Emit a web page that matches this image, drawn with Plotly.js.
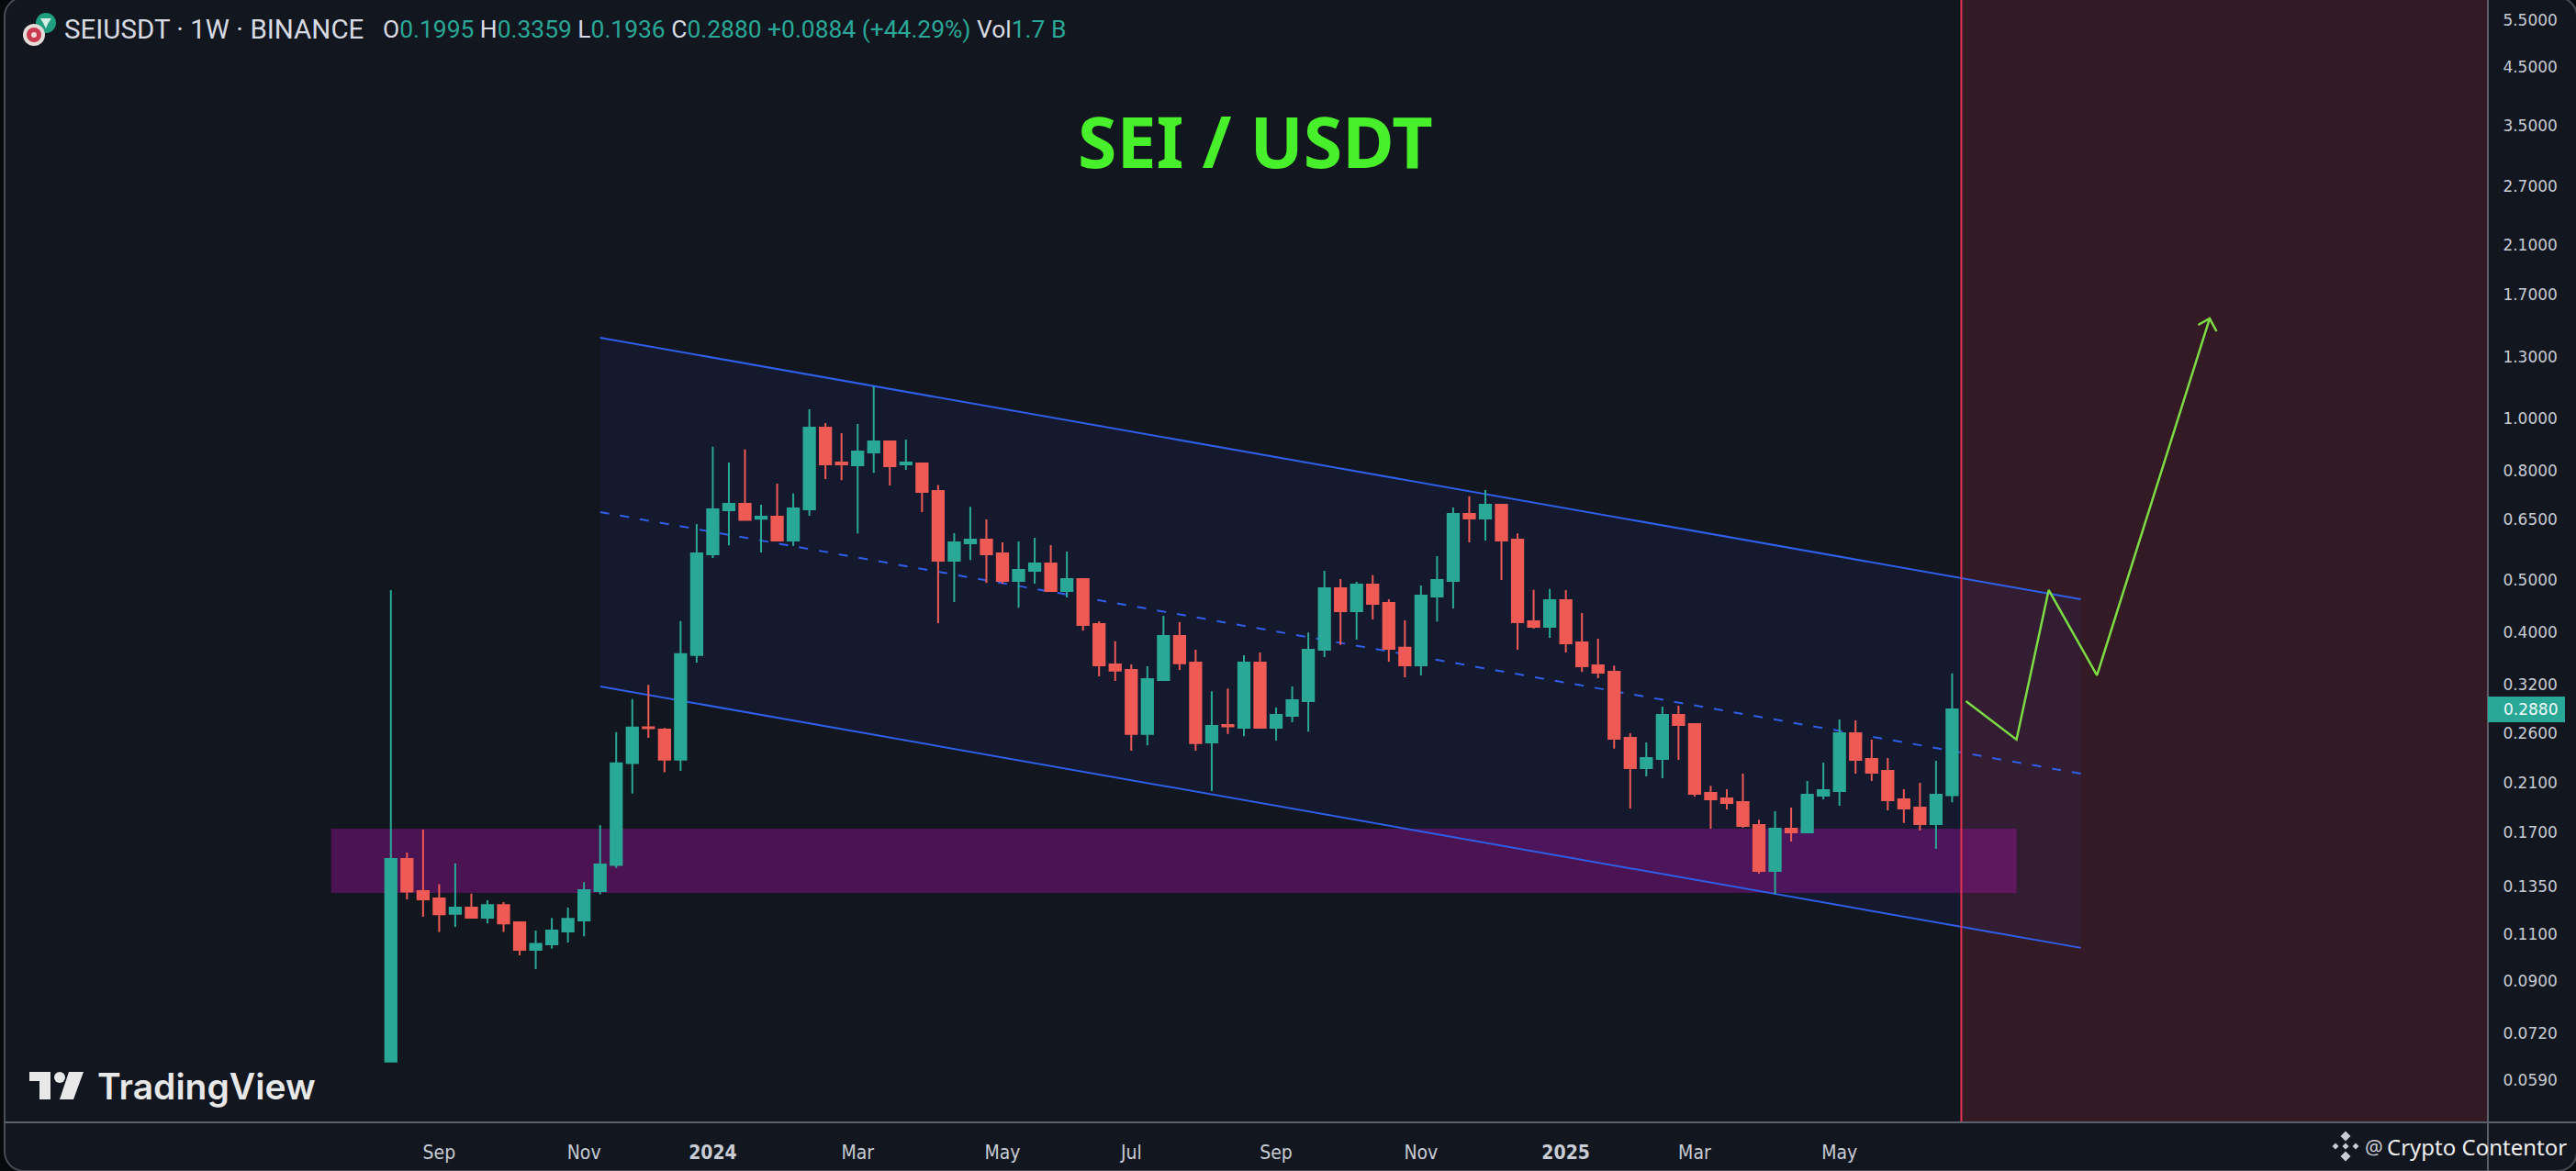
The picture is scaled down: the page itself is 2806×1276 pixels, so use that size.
<!DOCTYPE html>
<html>
<head>
<meta charset="utf-8">
<title>SEI / USDT</title>
<script src="https://cdn.plot.ly/plotly-3.0.1.min.js"></script>
<style>
html,body{margin:0;padding:0;background:#08090c;width:2806px;height:1276px;overflow:hidden}
#frame{position:absolute;left:4px;top:-4px;width:2800px;height:1277px;background:#12161f;border:2px solid #4a4d55;border-radius:22px;box-sizing:content-box}
#chart{position:absolute;left:0;top:0;width:2806px;height:1276px}
</style>
</head>
<body>
<div id="frame"></div>
<div id="chart"></div>
<script>
const weeks = ["2023-08-14","2023-08-21","2023-08-28","2023-09-04","2023-09-11","2023-09-18","2023-09-25","2023-10-02","2023-10-09","2023-10-16","2023-10-23","2023-10-30","2023-11-06","2023-11-13","2023-11-20","2023-11-27","2023-12-04","2023-12-11","2023-12-18","2023-12-25",
"2024-01-01","2024-01-08","2024-01-15","2024-01-22","2024-01-29","2024-02-05","2024-02-12","2024-02-19","2024-02-26","2024-03-04","2024-03-11","2024-03-18","2024-03-25","2024-04-01","2024-04-08","2024-04-15","2024-04-22","2024-04-29","2024-05-06","2024-05-13","2024-05-20","2024-05-27","2024-06-03","2024-06-10","2024-06-17","2024-06-24","2024-07-01","2024-07-08","2024-07-15","2024-07-22","2024-07-29","2024-08-05","2024-08-12","2024-08-19","2024-08-26","2024-09-02","2024-09-09","2024-09-16","2024-09-23","2024-09-30","2024-10-07","2024-10-14","2024-10-21","2024-10-28","2024-11-04","2024-11-11","2024-11-18","2024-11-25","2024-12-02","2024-12-09","2024-12-16","2024-12-23","2024-12-30",
"2025-01-06","2025-01-13","2025-01-20","2025-01-27","2025-02-03","2025-02-10","2025-02-17","2025-02-24","2025-03-03","2025-03-10","2025-03-17","2025-03-24","2025-03-31","2025-04-07","2025-04-14","2025-04-21","2025-04-28","2025-05-05","2025-05-12","2025-05-19","2025-05-26","2025-06-02","2025-06-09","2025-06-16","2025-06-23"];
const opens = [.0638,.1519,.1323,.1283,.1201,.1233,.1181,.1247,.1158,.1029,.1054,.1113,.1167,.1323,.1480,.2289,.2669,.2641,.2324,.3636,
.5592,.6753,.6941,.6510,.6569,.5932,.6780,.9615,.8282,.8186,.8647,.9065,.8218,.8250,.7333,.5442,.5863,.5955,.5615,.4991,.5211,.5378,.4780,.5030,.4150,.3492,.3410,.2594,.3266,.3943,.3519,.2501,.2695,.2663,.3519,.2663,.2802,.2984,.3717,.4837,.4384,.4913,.4542,.3750,.3478,.4668,.4991,.6647,.6518,.6914,.5955,.4199,.4101,
.4595,.3836,.3478,.3383,.2551,.2241,.2330,.2813,.2705,.2015,.1968,.1937,.1756,.1443,.1729,.1702,.1991,.2031,.2601,.2330,.2214,.1960,.1892,.1763,.1995];
const highs = [.4800,.1561,.1722,.1363,.1491,.1309,.1272,.1263,.1158,.1118,.1180,.1233,.1375,.1754,.2612,.3009,.3200,.2660,.4201,.6367,
.8862,.8282,.8760,.6914,.7567,.7255,1.040,.9805,.9391,.9767,1.1473,.9065,.9137,.8282,.7522,.6121,.6852,.6492,.5886,.5909,.6002,.5817,.5659,.5050,.4199,.3856,.3492,.3464,.4299,.4183,.3717,.3111,.3148,.3632,.3675,.2904,.3177,.4001,.5211,.5030,.4971,.5115,.4613,.4215,.4894,.5549,.6833,.7170,.7361,.6914,.6114,.4805,.4824,
.4799,.4350,.3897,.3473,.2601,.2501,.2915,.2926,.2712,.2076,.2047,.2188,.1796,.1862,.1892,.2120,.2294,.2758,.2747,.2531,.2339,.2047,.2103,.2312,.3359];
const lows = [.0638,.1278,.1186,.1111,.1136,.1176,.1153,.1111,.1005,.0948,.1034,.1062,.1091,.1305,.1462,.2009,.2551,.2201,.2214,.3519,
.5505,.5810,.6467,.5637,.5920,.5794,.6595,.7717,.7678,.6114,.7922,.7508,.8026,.6700,.4166,.4559,.5456,.4946,.4932,.4449,.4932,.4762,.4650,.4033,.3318,.3253,.2414,.2469,.3257,.3410,.2414,.2031,.2594,.2568,.2655,.2521,.2726,.2618,.3603,.3795,.3882,.4232,.3533,.3305,.3331,.4194,.4437,.5886,.5932,.5011,.3717,.4069,.3913,
.3675,.3379,.3292,.2436,.1885,.2162,.2145,.2321,.1984,.1729,.1877,.1735,.1426,.1308,.1636,.1702,.1960,.1907,.2188,.2120,.1870,.1772,.1715,.1586,.1936];
const closes = [.1519,.1321,.1278,.1199,.1233,.1181,.1247,.1153,.1029,.1056,.1118,.1175,.1329,.1483,.2286,.2665,.2657,.2324,.3647,.5615,
.6780,.6941,.6478,.6569,.5932,.6806,.9615,.8218,.8218,.8681,.9065,.8154,.8282,.7304,.5442,.5886,.5955,.5592,.4991,.5231,.5378,.4780,.5030,.4134,.3478,.3400,.2594,.3279,.3943,.3509,.2494,.2684,.2677,.3519,.2663,.2813,.2996,.3717,.4837,.4384,.4913,.4524,.3732,.3478,.4686,.5011,.6647,.6518,.6914,.5932,.4183,.4101,.4595,
.3821,.3464,.3370,.2541,.2241,.2339,.2813,.2695,.2007,.1960,.1930,.1749,.1443,.1729,.1702,.1999,.2039,.2601,.2321,.2197,.1953,.1885,.1763,.1999,.2880];

const priceTicks = [5.5,4.5,3.5,2.7,2.1,1.7,1.3,1.0,0.8,0.65,0.5,0.4,0.32,0.26,0.21,0.17,0.135,0.11,0.09,0.072,0.059];
const monthTickDates = ["2023-09-04","2023-11-06","2024-01-01","2024-03-04","2024-05-06","2024-07-01","2024-09-02","2024-11-04","2025-01-06","2025-03-03","2025-05-05"];
const monthTickLabels = ["Sep","Nov","<b>2024</b>","Mar","May","Jul","Sep","Nov","<b>2025</b>","Mar","May"];

const channelDates = ["2023-11-13","2025-08-18"];
const channelUpper = [1.4127,0.4614];
const channelMiddle = [0.6699,0.2188];
const channelLower = [0.3177,0.1038];
const supportDates = ["2023-07-19","2025-07-21"];
const supportBand = [0.1313,0.1729];
const viewDates = ["2023-02-27","2026-02-11"];
const projectionStart = "2025-06-27";
const forecastDates = ["2025-06-29","2025-07-21","2025-08-04","2025-08-25","2025-10-13"];
const forecastPrices = [0.2984,0.2531,0.4799,0.3331,1.5338];
const arrowDates = ["2025-10-08","2025-10-13","2025-10-16"];
const arrowPrices = [1.4927,1.5338,1.4521];

const UP = "#2aa897", DOWN = "#f05a55", BLUE = "#2f5fe8", GREEN = "#7ddc45";
const L = 5, R = 2710, B = 1223;
const W = R - L;
const px = x => (x - L) / W;
const py = y => 1 - y / B;
const poly = pts => "M" + pts.map(p => px(p[0]).toFixed(5) + "," + py(p[1]).toFixed(5)).join("L") + "Z";
const deco = (path, fill) => ({type:"path", xref:"paper", yref:"paper", path, fillcolor:fill, line:{width:0}, layer:"above"});
const circle = (cx, cy, r, fill) => ({type:"circle", xref:"paper", yref:"paper", x0:px(cx-r), x1:px(cx+r), y0:py(cy+r), y1:py(cy-r), fillcolor:fill, line:{width:0}, layer:"above"});
const rhomb = (cx, cy, r) => poly([[cx, cy-r],[cx+r, cy],[cx, cy+r],[cx-r, cy]]);
const rail = (ys, dash) => ({type:"line", xref:"x", yref:"y", x0:channelDates[0], x1:channelDates[1], y0:ys[0], y1:ys[1], line:{color:BLUE, width:2, dash:dash}, layer:"below"});

const shapes = [
  {type:"rect", xref:"x", yref:"paper", x0:projectionStart, x1:viewDates[1], y0:0, y1:1, fillcolor:"rgba(242,54,69,0.15)", line:{width:0}, layer:"below"},
  {type:"path", xref:"x", yref:"y", path:"M"+channelDates[0]+","+channelUpper[0]+"L"+channelDates[1]+","+channelUpper[1]+"L"+channelDates[1]+","+channelLower[1]+"L"+channelDates[0]+","+channelLower[0]+"Z", fillcolor:"rgba(50,70,255,0.07)", line:{width:0}, layer:"below"},
  {type:"rect", xref:"x", yref:"y", x0:supportDates[0], x1:supportDates[1], y0:supportBand[0], y1:supportBand[1], fillcolor:"rgba(163,15,161,0.40)", line:{width:0}, layer:"below"},
  rail(channelUpper,"solid"), rail(channelMiddle,"10px,12px"), rail(channelLower,"solid"),
  {type:"line", xref:"x", yref:"paper", x0:projectionStart, x1:projectionStart, y0:0, y1:1, line:{color:"#e2344f", width:2}, layer:"above"},
  {type:"line", xref:"paper", yref:"paper", x0:0, x1:1+96/W, y0:0, y1:0, line:{color:"#5c606a", width:2}, layer:"above"},
  {type:"line", xref:"paper", yref:"paper", x0:1, x1:1, y0:1, y1:-53/B, line:{color:"#5c606a", width:2}, layer:"above"},
  {type:"rect", xref:"paper", yref:"paper", x0:1, x1:px(2794), y0:py(787), y1:py(759), fillcolor:UP, line:{width:0}, layer:"above"},
  circle(50,25,11,"#1f9e80"), deco(poly([[44,20],[56,20],[52,26],[50,31],[47,25]]),"#d8efe8"),
  circle(37,38,12,"#e4dcd8"), circle(37,38,8,"#c93a4e"), circle(37,38,3,"#efd8d8"),
  deco(poly([[32,1168],[55,1168],[55,1198],[43,1198],[43,1178],[32,1178]]),"#e8e8e8"),
  circle(65,1174,6,"#e8e8e8"),
  deco(poly([[75,1168],[91,1168],[80,1198],[65,1198]]),"#e8e8e8"),
  deco(rhomb(2555,1238,5.5)+rhomb(2555,1260,5.5)+rhomb(2544,1249,3.5)+rhomb(2566,1249,3.5)+rhomb(2555,1249,3.5),"#c9ccd4")
];

const span = (c, t) => '<span style="color:' + c + '">' + t + '</span>';
const G = "#d8dbe3", T = "#2aa897";
const note = (text, x, y, font, extra) => Object.assign({xref:"paper", yref:"paper", x:px(x), y:py(y), text, showarrow:false, xanchor:"left", yanchor:"middle", font}, extra||{});
const NARROW = "Liberation Sans Narrow, Roboto";
const last = closes.length - 1;
const annotations = [
  note("SEI / USDT", 1367, 153, {size:77, color:"#47f02a", family:"Noto Sans", weight:700}, {xanchor:"center"}),
  note("SEIUSDT · 1W · BINANCE", 68, 32, {size:29.5, color:"#d8dbe3", family:NARROW}),
  note(span(G,"O")+span(T,"0.1995")+span(G," H")+span(T,"0.3359")+span(G," L")+span(T,"0.1936")+span(G," C")+span(T,"0.2880 +0.0884 (+44.29%)")+span(G," Vol")+span(T,"1.7 B"), 415, 32, {size:26.4, color:T, family:NARROW}),
  note("TradingView", 104, 1183, {size:39, color:"#e8e8e8", family:"Inter", weight:600}),
  note("@", 2574, 1249, {size:22, color:"#c9ccd4", family:"Noto Sans"}),
  note("Crypto Contentor", 2598, 1249, {size:24, color:"#f0f0f0", family:"Noto Sans"}),
  {xref:"paper", yref:"y", x:px(2725), y:Math.log10(closes[last]), text:closes[last].toFixed(4), showarrow:false, xanchor:"left", yanchor:"middle", font:{size:17, color:"#f4fbfa", family:"DejaVu Sans"}}
];

const traces = [
  {type:"candlestick", x:weeks, open:opens, high:highs, low:lows, close:closes, whiskerwidth:0, hoverinfo:"skip",
   increasing:{line:{color:UP,width:2}, fillcolor:UP}, decreasing:{line:{color:DOWN,width:2}, fillcolor:DOWN}},
  {type:"scatter", x:forecastDates, y:forecastPrices, mode:"lines", line:{color:GREEN,width:2.5}, hoverinfo:"skip"},
  {type:"scatter", x:arrowDates, y:arrowPrices, mode:"lines", line:{color:GREEN,width:2.5}, hoverinfo:"skip"}
];

const layout = {
  width:2806, height:1276, showlegend:false, boxgap:0.3, boxgroupgap:0,
  paper_bgcolor:"rgba(0,0,0,0)", plot_bgcolor:"rgba(0,0,0,0)",
  margin:{l:L, r:2806-R, t:0, b:1276-B, pad:0},
  xaxis:{type:"date", range:viewDates, showgrid:false, zeroline:false, showline:false, rangeslider:{visible:false}, fixedrange:true,
    tickmode:"array", tickvals:monthTickDates, ticktext:monthTickLabels, ticks:"outside", ticklen:14, tickcolor:"rgba(0,0,0,0)",
    tickfont:{size:21, color:"#c8ccd4", family:"DejaVu Sans Condensed, Roboto"}},
  yaxis:{type:"log", side:"right", range:[-1.308,0.7776], showgrid:false, zeroline:false, showline:false, fixedrange:true,
    tickmode:"array", tickvals:priceTicks, ticktext:priceTicks.map(v => v.toFixed(4)), ticks:"outside", ticklen:12, tickcolor:"rgba(0,0,0,0)",
    tickfont:{size:17, color:"#c8ccd4", family:"DejaVu Sans"}},
  shapes, annotations
};
Plotly.newPlot("chart", traces, layout, {staticPlot:true, displayModeBar:false});
</script>
</body>
</html>
